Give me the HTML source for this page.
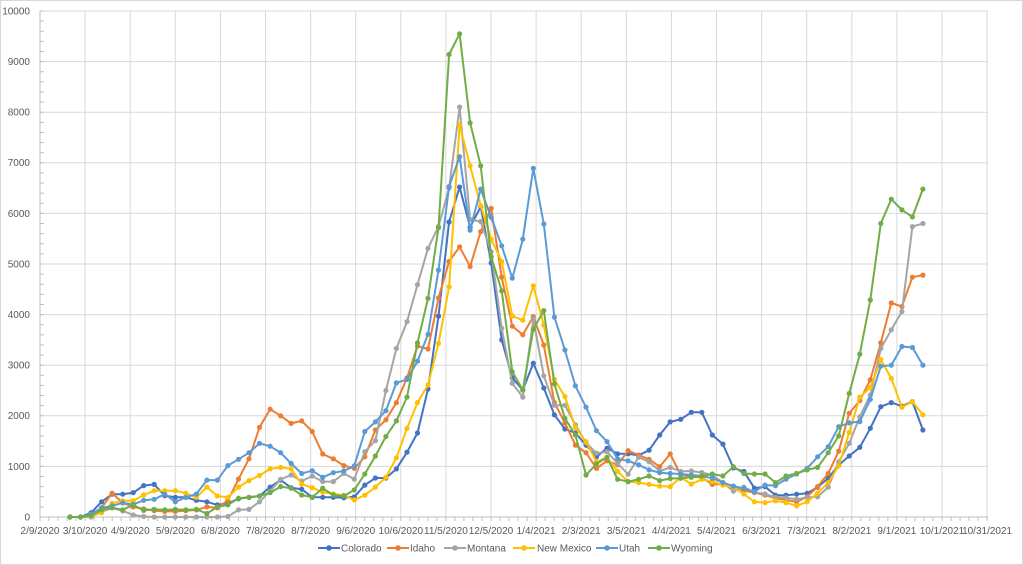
<!DOCTYPE html>
<html><head><meta charset="utf-8"><style>
html,body{margin:0;padding:0;background:#fff;}
svg{display:block;font-family:"Liberation Sans",sans-serif;}
</style></head><body>
<svg id="c" width="1023" height="565" viewBox="0 0 1023 565" xmlns="http://www.w3.org/2000/svg">
<rect x="0.5" y="0.5" width="1022" height="564" fill="#fff" stroke="#d9d9d9"/>
<g id="grid"></g>
<g font-size="10" fill="#595959" text-anchor="end">
<text x="30" y="14.5">10000</text><text x="30" y="65">9000</text><text x="30" y="115.6">8000</text><text x="30" y="166.2">7000</text><text x="30" y="216.8">6000</text><text x="30" y="267.4">5000</text><text x="30" y="318">4000</text><text x="30" y="368.6">3000</text><text x="30" y="419.2">2000</text><text x="30" y="469.8">1000</text><text x="30" y="520.5">0</text>
</g>
<g font-size="10" fill="#595959" text-anchor="middle">
<text x="40" y="534">2/9/2020</text><text x="85.1" y="534">3/10/2020</text><text x="130.2" y="534">4/9/2020</text><text x="175.3" y="534">5/9/2020</text><text x="220.4" y="534">6/8/2020</text><text x="265.5" y="534">7/8/2020</text><text x="310.6" y="534">8/7/2020</text><text x="355.7" y="534">9/6/2020</text><text x="400.8" y="534">10/6/2020</text><text x="445.9" y="534">11/5/2020</text><text x="491" y="534">12/5/2020</text><text x="536.1" y="534">1/4/2021</text><text x="581.2" y="534">2/3/2021</text><text x="626.3" y="534">3/5/2021</text><text x="671.4" y="534">4/4/2021</text><text x="716.5" y="534">5/4/2021</text><text x="761.6" y="534">6/3/2021</text><text x="806.7" y="534">7/3/2021</text><text x="851.8" y="534">8/2/2021</text><text x="896.9" y="534">9/1/2021</text><text x="942" y="534">10/1/2021</text><text x="987.1" y="534">10/31/2021</text>
</g>
<g id="series"></g>
<g font-size="10" fill="#595959">
<line x1="318" y1="548" x2="340" y2="548" stroke="#4472C4" stroke-width="2"/><circle cx="329" cy="548" r="2.8" fill="#4472C4"/><text x="341" y="551.5">Colorado</text>
<line x1="387" y1="548" x2="409" y2="548" stroke="#ED7D31" stroke-width="2"/><circle cx="398" cy="548" r="2.8" fill="#ED7D31"/><text x="410" y="551.5">Idaho</text>
<line x1="444" y1="548" x2="466" y2="548" stroke="#A5A5A5" stroke-width="2"/><circle cx="455" cy="548" r="2.8" fill="#A5A5A5"/><text x="467" y="551.5">Montana</text>
<line x1="513" y1="548" x2="535" y2="548" stroke="#FFC000" stroke-width="2"/><circle cx="524" cy="548" r="2.8" fill="#FFC000"/><text x="537" y="551.5">New Mexico</text>
<line x1="596" y1="548" x2="618" y2="548" stroke="#5B9BD5" stroke-width="2"/><circle cx="607" cy="548" r="2.8" fill="#5B9BD5"/><text x="619" y="551.5">Utah</text>
<line x1="648" y1="548" x2="670" y2="548" stroke="#70AD47" stroke-width="2"/><circle cx="659" cy="548" r="2.8" fill="#70AD47"/><text x="671" y="551.5">Wyoming</text>
</g>
</svg>
<script>
(function(){
var NS="http://www.w3.org/2000/svg";
function el(p,t,a){var e=document.createElementNS(NS,t);for(var k in a)e.setAttribute(k,a[k]);p.appendChild(e);return e;}
var g=document.getElementById("grid");
var Y0=517,PX=0.0506;
for(var v=1000;v<=10000;v+=1000){var y=Y0-v*PX;el(g,"line",{x1:40,x2:988,y1:y,y2:y,stroke:"#d9d9d9","stroke-width":1});}
for(var k=1;k<=21;k++){var x=40+45.1*k;el(g,"line",{x1:x,x2:x,y1:11,y2:Y0,stroke:"#d9d9d9","stroke-width":1});}
el(g,"line",{x1:40,x2:40,y1:11,y2:Y0,stroke:"#bfbfbf","stroke-width":1});
el(g,"line",{x1:40,x2:988,y1:Y0,y2:Y0,stroke:"#bfbfbf","stroke-width":1});
for(var v=200;v<=10000;v+=200){var y=Y0-v*PX;el(g,"line",{x1:40,x2:44,y1:y,y2:y,stroke:"#bfbfbf","stroke-width":1});}
for(var k=0;k<=105;k++){var x=40+9.02*k;el(g,"line",{x1:x,x2:x,y1:Y0,y2:Y0+4,stroke:"#bfbfbf","stroke-width":1});}
var D={
"#4472C4":[0,0,85,300,450,450,480,620,645,420,390,390,330,300,240,270,360,390,415,590,730,580,550,390,390,390,380,400,630,770,770,950,1280,1660,2530,3970,5830,6520,5730,6130,5020,3500,2750,2510,3040,2550,2020,1740,1660,1420,1190,1360,1250,1250,1220,1320,1620,1880,1930,2070,2070,1620,1440,970,900,570,600,430,430,450,468,587,765,1028,1205,1377,1752,2180,2260,2190,2280,1720],
"#ED7D31":[0,0,30,180,470,280,200,160,125,110,110,125,140,200,180,330,750,1150,1770,2130,2000,1850,1900,1690,1245,1150,1015,960,1190,1720,1920,2260,2750,3380,3320,4330,5050,5340,4950,5640,6100,4740,3770,3600,3960,3400,2260,1860,1420,1270,960,1110,1030,1310,1225,1140,995,1245,830,800,780,645,650,600,520,480,435,370,335,300,400,600,860,1300,2050,2300,2710,3440,4230,4160,4740,4780],
"#A5A5A5":[0,0,0,100,180,120,40,10,0,0,0,0,0,0,0,10,140,150,300,510,745,830,710,810,700,700,860,750,1290,1510,2500,3330,3860,4590,5310,5740,6500,8100,5880,5840,5240,3730,2640,2370,3910,2790,2210,2210,1820,1470,1260,1290,1060,845,1180,1090,910,980,900,910,880,830,680,510,590,490,455,390,380,350,390,400,590,1090,1455,1980,2410,3330,3700,4060,5740,5800],
"#FFC000":[0,0,20,85,270,320,320,435,520,520,520,470,390,590,415,390,590,720,820,950,980,950,650,580,490,455,430,335,430,590,785,1170,1750,2260,2610,3430,4550,7750,6940,6150,5490,5050,3970,3890,4570,3790,2720,2380,1770,1490,1090,1180,900,700,680,645,610,600,785,650,745,700,630,590,455,300,285,320,285,220,300,470,680,1010,1670,2370,2560,3110,2740,2170,2280,2020],
"#5B9BD5":[0,0,60,180,220,280,250,330,350,450,300,390,455,730,730,1015,1140,1270,1455,1400,1270,1060,860,915,785,875,910,1010,1690,1880,2100,2650,2720,3080,3610,4880,6530,7120,5670,6480,5920,5360,4720,5490,6890,5790,3950,3300,2590,2170,1705,1490,1150,1110,1030,930,875,860,850,830,810,765,680,610,565,500,630,620,750,850,960,1190,1390,1785,1860,1885,2325,2980,3000,3370,3350,3000],
"#70AD47":[0,0,30,140,185,140,240,130,150,140,150,140,150,70,200,240,370,390,415,480,600,570,435,390,570,435,415,535,850,1205,1590,1900,2370,3440,4320,5720,9140,9550,7790,6940,5140,4470,2870,2510,3710,4080,2630,1950,1620,830,1050,1180,745,700,745,810,720,760,765,785,810,850,810,995,860,850,850,680,810,860,930,980,1270,1600,2440,3220,4290,5800,6280,6070,5930,6480]
};
var s=document.getElementById("series");
for(var c in D){var a=D[c],pts=[];
for(var i=0;i<a.length;i++){pts.push((70+10.53*i).toFixed(1)+","+(Y0-a[i]*PX).toFixed(1));}
el(s,"polyline",{points:pts.join(" "),fill:"none",stroke:c,"stroke-width":2,"stroke-linejoin":"round"});
for(var i=0;i<a.length;i++){el(s,"circle",{cx:(70+10.53*i).toFixed(1),cy:(Y0-a[i]*PX).toFixed(1),r:2.6,fill:c});}
}
})();
</script>
</body></html>
